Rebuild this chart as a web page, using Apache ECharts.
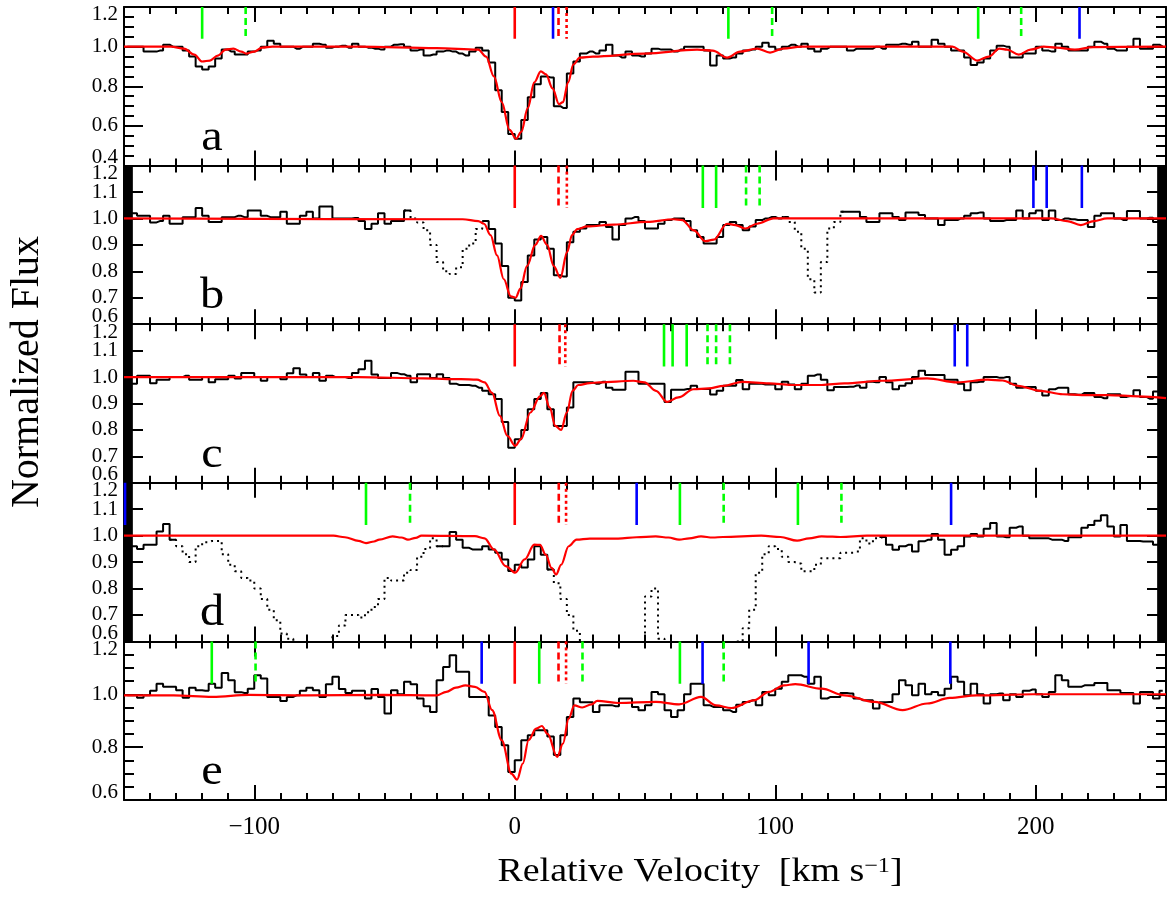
<!DOCTYPE html>
<html><head><meta charset="utf-8">
<script src="https://cdn.jsdelivr.net/npm/echarts/dist/echarts.min.js"></script>
<style>html,body{margin:0;padding:0;background:#fff}#c{width:1171px;height:898px}</style>
</head><body><div id="c"></div>
<script>
// ---------------- DATA ----------------
const VEL_START = -148.75;   // first bin centre (km/s)
const VEL_STEP = 2.5;        // bin width (km/s)
const X_MIN = -150, X_MAX = 250;
const panelLetters = ['a', 'b', 'c', 'd', 'e'];
const yRanges = [[0.4, 1.2, 0.2], [0.6, 1.2, 0.1], [0.6, 1.2, 0.1], [0.6, 1.2, 0.1], [0.6, 1.2, 0.2]];
const markerTop = 1.2, markerBottom = 1.04;

const fluxA = [
1.00,1.00,1.00,0.975,0.975,0.98,1.01,1.00,1.00,0.98,
0.95,0.90,0.885,0.90,0.94,0.985,0.975,0.96,0.96,0.975,
0.98,1.00,1.03,1.015,1.00,1.00,0.99,1.00,1.00,1.015,
1.01,0.995,1.00,1.005,0.995,1.015,1.00,0.995,0.99,0.985,
1.00,1.01,1.012,1.00,0.98,0.985,0.955,0.96,0.975,0.98,
0.975,0.965,0.955,0.975,0.995,0.98,0.92,0.78,0.67,0.56,
0.535,0.63,0.745,0.81,0.85,0.845,0.70,0.69,0.865,0.925,
0.965,0.975,0.965,0.98,1.01,0.955,0.945,0.975,0.955,0.95,
0.965,0.99,0.985,0.985,0.975,0.985,1.00,1.00,1.00,0.98,
0.905,0.955,0.94,0.945,0.965,0.98,0.985,1.00,1.02,1.00,
0.985,1.00,1.01,1.00,1.015,0.99,0.975,0.99,1.00,1.00,
1.00,0.98,0.99,0.99,0.99,1.00,0.99,1.01,1.01,1.015,
1.01,1.025,1.00,1.00,1.035,1.015,1.00,0.98,0.98,0.945,
0.907,0.92,0.94,0.98,1.005,1.00,0.945,0.945,0.965,0.965,
1.00,0.98,0.975,1.015,1.00,0.98,0.98,0.98,1.00,1.025,
1.015,0.99,0.98,0.98,1.00,1.04,0.99,0.99,1.01,1.00];

const fluxB = [
1.00,1.02,1.01,1.01,0.985,0.99,1.01,0.98,0.98,1.005,
1.005,1.04,1.01,0.987,0.987,1.005,1.005,1.01,1.005,1.03,
1.03,1.01,1.005,1.005,1.025,0.98,0.98,1.01,1.025,1.00,
1.045,1.045,1.00,1.00,1.00,1.002,0.99,0.96,0.98,1.02,
0.98,0.99,0.99,1.03,1.00,0.985,0.955,0.90,0.835,0.80,
0.79,0.815,0.885,0.905,0.96,0.99,0.96,0.905,0.82,0.70,
0.69,0.76,0.86,0.92,0.93,0.885,0.785,0.78,0.91,0.95,
0.962,0.975,0.975,0.987,0.968,0.92,0.975,1.00,1.006,0.99,
0.962,0.962,0.98,0.994,1.00,1.00,0.99,0.955,0.93,0.905,
0.905,0.93,0.975,0.987,0.975,0.955,0.97,0.994,1.00,1.006,
1.00,1.006,0.987,0.95,0.885,0.77,0.72,0.835,0.962,0.987,
1.025,1.025,1.025,1.006,0.987,0.987,1.02,1.02,1.006,0.994,
1.023,1.023,1.013,1.00,1.00,0.975,0.994,0.994,1.00,1.01,
1.02,1.023,1.00,0.99,0.99,0.994,0.994,1.03,1.00,1.02,
1.03,0.994,1.03,0.994,1.00,0.997,0.994,0.994,0.968,1.01,
1.02,1.02,1.00,0.994,1.028,1.028,1.00,1.003,0.987,0.99];

const fluxC = [
0.975,0.975,1.005,1.005,0.977,0.99,0.99,1.00,1.00,1.005,
0.99,0.99,1.00,0.98,0.992,0.992,1.005,0.995,1.015,1.015,
1.00,0.986,1.00,1.00,0.992,1.014,1.033,1.01,1.00,1.015,
0.986,1.005,1.00,1.00,0.996,1.015,1.03,1.062,1.01,0.996,
0.996,1.015,1.011,1.005,0.98,1.011,1.011,0.996,1.011,0.996,
0.975,0.97,0.97,0.967,0.96,0.948,0.935,0.917,0.83,0.733,
0.765,0.80,0.878,0.917,0.94,0.878,0.815,0.815,0.885,0.98,
0.98,0.98,0.975,0.982,0.96,0.952,0.952,1.02,1.02,0.975,
0.975,0.975,0.975,0.906,0.952,0.952,0.955,0.967,0.955,0.955,
0.934,0.948,0.967,0.967,0.989,0.954,0.975,0.975,0.972,0.972,
0.954,0.982,0.972,0.954,0.975,1.005,1.01,0.99,0.95,0.962,
0.962,0.963,0.968,0.96,0.982,0.98,1.00,0.98,0.954,0.967,
0.977,1.00,1.024,1.008,1.008,1.008,0.99,0.99,0.975,0.95,
0.98,0.982,1.00,1.00,0.997,1.00,0.975,0.96,0.962,0.962,
0.948,0.93,0.954,0.96,0.96,0.935,0.933,0.94,0.94,0.925,
0.92,0.935,0.935,0.925,0.928,0.95,0.925,0.918,0.945,0.945];

const fluxD = [
0.96,0.96,0.95,0.966,0.966,1.016,1.044,0.985,0.96,0.93,
0.90,0.96,0.975,0.98,0.98,0.93,0.89,0.865,0.84,0.83,
0.80,0.76,0.72,0.68,0.63,0.61,0.59,0.58,0.57,0.56,
0.56,0.58,0.62,0.66,0.70,0.70,0.69,0.71,0.73,0.76,
0.84,0.83,0.83,0.86,0.87,0.92,0.95,0.99,0.96,0.96,
1.014,0.985,0.954,0.948,0.948,0.96,0.948,0.935,0.91,0.866,
0.89,0.88,0.91,0.96,0.928,0.872,0.82,0.76,0.70,0.64,
0.58,0.55,0.55,0.55,0.55,0.55,0.55,0.55,0.55,0.59,
0.77,0.80,0.61,0.55,0.55,0.55,0.55,0.55,0.55,0.55,
0.55,0.55,0.55,0.55,0.60,0.65,0.72,0.86,0.93,0.96,
0.95,0.92,0.90,0.895,0.865,0.865,0.89,0.915,0.915,0.915,
0.935,0.935,0.94,0.99,0.97,0.99,0.995,0.966,0.947,0.96,
0.966,0.94,0.979,0.985,1.006,0.985,0.928,0.947,0.96,0.997,
1.006,0.997,1.026,1.048,0.997,0.994,1.03,1.035,1.00,0.99,
0.99,0.99,0.985,0.985,0.98,0.994,0.994,1.03,1.04,1.056,
1.077,1.035,0.997,1.04,0.98,0.98,0.978,0.978,0.966,0.966];

const fluxE = [
0.996,0.996,0.987,0.996,1.013,1.04,1.028,1.028,1.015,0.987,
1.025,1.015,1.013,1.04,1.025,1.08,1.053,1.008,1.005,1.021,
1.072,1.06,0.99,0.99,0.975,0.99,0.996,1.013,1.025,1.015,
0.99,1.038,1.066,1.02,1.005,1.013,1.013,0.984,1.02,0.99,
0.927,1.015,1.00,1.047,1.038,0.984,0.955,0.933,1.053,1.103,
1.148,1.085,1.085,0.99,0.99,0.99,0.92,0.876,0.807,0.706,
0.75,0.826,0.845,0.864,0.864,0.84,0.77,0.845,0.914,0.984,
0.97,0.97,0.933,0.958,0.958,0.955,0.984,0.984,0.952,0.94,
0.958,1.009,1.00,0.94,0.914,0.94,1.00,1.04,1.04,0.958,
0.952,0.952,0.94,0.933,0.96,0.971,0.977,0.958,1.009,0.996,
1.021,1.047,1.072,1.072,1.066,1.04,1.066,0.984,0.99,0.99,
1.005,1.003,0.984,0.977,0.977,0.946,0.97,0.971,1.00,1.053,
1.034,0.996,1.04,1.00,1.009,0.996,1.021,1.066,1.047,0.996,
1.04,1.00,0.965,1.00,1.003,0.977,1.00,0.99,1.013,1.018,
1.00,0.99,1.009,1.072,1.053,1.028,1.028,1.034,1.034,1.043,
1.043,1.015,1.015,1.005,1.005,0.965,1.009,1.009,0.984,1.013];

// masked (dotted) velocity ranges
const maskA = [], maskB = [[-40, -12.5], [105, 125]], maskC = [], maskD = [[-130, -30], [15, 140]], maskE = [];
// black masked edge regions
const edgeA = [], edgeB = [[-150, -146.6], [246.6, 250]], edgeC = [[-150, -146.6], [246.6, 250]], edgeD = [[-150, -146.6], [246.6, 250]], edgeE = [];

// model fits [velocity, flux]
const modelA = [[-150,1.0],[-132,1.0],[-127,0.99],[-123,0.96],[-120,0.925],[-117,0.93],[-114,0.955],[-111,0.985],[-108,0.99],[-105,0.975],[-103,0.965],[-100,0.975],[-97,0.995],[-93,1.0],[-60,1.0],[-30,0.993],[-14,0.985],[-11,0.95],[-8,0.85],[-5,0.72],[-2,0.58],[0.5,0.535],[2.5,0.57],[5,0.69],[7.5,0.82],[10,0.875],[12,0.86],[14.5,0.79],[17,0.71],[18.5,0.72],[20.5,0.82],[22.5,0.91],[25,0.945],[30,0.95],[50,0.965],[70,0.985],[76,0.98],[81.5,0.945],[86.5,0.975],[93,0.99],[98,0.97],[103,0.99],[110,1.0],[168,1.0],[172,0.975],[177.5,0.93],[182,0.95],[186,0.99],[189,0.985],[193.5,0.96],[198,0.985],[203,1.0],[208,0.995],[215,0.985],[222,0.998],[250,1.0]];
const modelB = [[-150,1.0],[-20,0.997],[-14,0.99],[-11.8,0.98],[-9.3,0.937],[-6.8,0.86],[-4.2,0.77],[-1.5,0.705],[0.3,0.70],[2.2,0.735],[4.7,0.82],[7.9,0.90],[10.1,0.934],[12.4,0.90],[15,0.82],[17.5,0.775],[20.1,0.873],[22,0.937],[24,0.96],[27.8,0.97],[38,0.977],[50.8,0.987],[61,0.997],[64.3,0.994],[68.7,0.955],[73.2,0.914],[76.4,0.92],[81.5,0.98],[84.7,0.975],[88.5,0.962],[93,0.98],[99.4,1.0],[206,1.0],[212,0.99],[217.3,0.975],[222.3,0.99],[227.4,1.0],[250,1.0]];
const modelC = [[-150,1.0],[-60,1.0],[-35,0.995],[-20.6,0.992],[-14.5,0.99],[-11.6,0.98],[-8.7,0.94],[-5.7,0.853],[-2.8,0.777],[0.2,0.74],[2.4,0.765],[6,0.866],[9.7,0.927],[11.2,0.94],[13.4,0.885],[15.6,0.815],[17.8,0.80],[20,0.866],[22.2,0.948],[24.4,0.97],[28.8,0.977],[32.5,0.98],[45.5,0.986],[49.8,0.98],[54.2,0.948],[58.5,0.906],[62.8,0.923],[68.6,0.954],[74.4,0.957],[80.2,0.967],[87.4,0.982],[97.6,0.976],[106.2,0.97],[117.8,0.97],[126.5,0.976],[141,0.986],[158.3,0.995],[169.9,0.98],[181.5,0.99],[187.3,0.987],[193.1,0.967],[201.7,0.948],[210.4,0.935],[217.7,0.932],[227.8,0.932],[239.4,0.927],[250,0.92]];
const modelD = [[-150,1.0],[-69.6,1.0],[-65.2,0.994],[-60,0.98],[-57.1,0.972],[-54,0.978],[-52,0.985],[-46.9,0.997],[-43.5,0.993],[-41,0.985],[-38,0.992],[-35.8,1.0],[-15.3,0.998],[-11.6,0.99],[-7.9,0.947],[-3.5,0.885],[0.2,0.86],[3.8,0.91],[7.5,0.966],[9.7,0.965],[11.9,0.928],[14.1,0.878],[15.9,0.853],[17.8,0.89],[20.7,0.96],[23.7,0.985],[28.8,0.989],[39.7,0.989],[46.8,0.994],[54.1,0.997],[59,0.993],[63.1,0.985],[67,0.99],[71.5,0.997],[76,0.993],[79.9,0.995],[94.6,1.0],[102,0.995],[108.4,0.981],[113,0.99],[117.8,0.997],[122,0.996],[125,0.995],[135.2,1.0],[250,1.0]];
const modelE = [[-150,0.996],[-131,0.996],[-116,0.99],[-102,0.998],[-80,0.996],[-50.5,0.998],[-30,0.996],[-26.3,1.009],[-22.6,1.025],[-18.9,1.034],[-15.3,1.028],[-11.6,1.009],[-8.7,0.94],[-5,0.826],[-1.3,0.70],[0.9,0.677],[3.1,0.738],[5.3,0.826],[8.2,0.87],[10.4,0.88],[12.6,0.85],[16.3,0.763],[18.5,0.813],[20.7,0.908],[22.9,0.958],[25.9,0.95],[29.5,0.962],[31.7,0.975],[39.7,0.967],[54.2,0.971],[63.1,0.962],[71.5,0.99],[77.3,0.958],[83.1,0.948],[91.8,0.977],[97.6,1.009],[103.4,1.034],[107.7,1.038],[117.8,1.021],[126.5,0.996],[138.1,0.971],[148.9,0.94],[158.3,0.965],[167,0.986],[177.2,0.996],[198.9,1.0],[250,1.0]];

// component velocity markers
const redSolid    = [[0], [0], [0], [0], [0]];
const redDashed   = [[16.8], [16.8], [17.2], [16.9], [16.8]];
const redDotted   = [[19.9], [20.0], [19.4], [19.7], [19.7]];
const greenSolid  = [[-120, 82, 177.9], [72.2, 77.3], [57.3, 60.6, 66.0], [-57.1, 63.4, 108.7], [-116.3, 9.4, 63.4]];
const greenDashed = [[-103.3, 98.8, 194.4], [88.8, 94.0], [74.0, 77.3, 82.6], [-40.2, 80.2, 125.4], [-99.5, 26.0, 80.2]];
const blueSolid   = [[14.7, 216.8], [199.1, 204.2, 217.7], [168.9, 173.7], [-149.6, 46.8, 167.5], [-12.7, 72.1, 112.8, 167.2]];

// ---------------- BUILD ----------------
const fluxes = [fluxA, fluxB, fluxC, fluxD, fluxE];
const masks = [maskA, maskB, maskC, maskD, maskE];
const edges = [edgeA, edgeB, edgeC, edgeD, edgeE];
const models = [modelA, modelB, modelC, modelD, modelE];

const FONT = "'Liberation Serif', 'DejaVu Serif', serif";
const L = 124, W = 1042, TOP0 = 7, PH = 158.6;
const RED = '#ff0000', GREEN = '#00ff00', BLUE = '#0000ff';
const EDGE_SLOTS = 10; // helper category axis: end labels sit half a slot inside the frame

const grids = [], xAxes = [], yAxes = [], series = [], graphics = [];
const labelFont = { color: '#000', fontFamily: FONT, fontSize: 21 };

for (let i = 0; i < 5; i++) {
  grids.push({ left: L, top: TOP0 + i * PH, width: W, height: PH });
  const [ymin, ymax, yint] = yRanges[i];
  const xBase = {
    gridIndex: i, type: 'value', min: X_MIN, max: X_MAX, splitNumber: 4,
    axisLine: { show: true, onZero: false, lineStyle: { color: '#000', width: 2 } },
    axisTick: { show: true, inside: true, length: 15, lineStyle: { color: '#000', width: 2 } },
    minorTick: { show: true, splitNumber: 10, length: 7, lineStyle: { color: '#000', width: 2 } },
    splitLine: { show: false }, minorSplitLine: { show: false }
  };
  xAxes.push(Object.assign({}, xBase, {
    position: 'bottom',
    axisLabel: {
      show: i === 4, showMinLabel: false, showMaxLabel: false, margin: 15,
      color: '#000', fontFamily: FONT, fontSize: 25,
      formatter: v => (v < 0 ? '\u2212' + Math.abs(v) : String(v))
    }
  }));
  xAxes.push(Object.assign({}, xBase, { position: 'top', axisLabel: { show: false } }));

  const minorSplit = Math.abs(yint - 0.2) < 1e-9 ? 4 : 0;
  const yBase = {
    gridIndex: i, type: 'value', min: ymin, max: ymax, interval: yint,
    axisLine: { show: true, onZero: false, lineStyle: { color: '#000', width: 2 } },
    axisTick: { show: true, inside: true, length: 19, lineStyle: { color: '#000', width: 2 } },
    minorTick: { show: minorSplit > 0, splitNumber: minorSplit || 5, length: 10, lineStyle: { color: '#000', width: 2 } },
    splitLine: { show: false }, minorSplitLine: { show: false }
  };
  // main value axis (inner labels only)
  yAxes.push(Object.assign({}, yBase, {
    position: 'left',
    axisLabel: Object.assign({
      show: true, showMinLabel: false, showMaxLabel: false, hideOverlap: false, margin: 6,
      formatter: v => v.toFixed(1)
    }, labelFont)
  }));
  yAxes.push(Object.assign({}, yBase, { position: 'right', axisLabel: { show: false } }));
  // helper axis for the end labels (min / max), nudged inside the panel
  const endLabels = Array.from({ length: EDGE_SLOTS }, (_, k) =>
    k === 0 ? ymin.toFixed(1) : (k === EDGE_SLOTS - 1 ? ymax.toFixed(1) : ''));
  yAxes.push({
    gridIndex: i, type: 'category', position: 'left', data: endLabels, boundaryGap: true,
    axisLine: { show: false }, axisTick: { show: false }, splitLine: { show: false },
    axisLabel: Object.assign({ show: true, interval: 0, margin: 6 }, labelFont)
  });

  const xi = 2 * i, yi = 3 * i;
  const flux = fluxes[i], mask = masks[i];
  const vel = flux.map((_, k) => VEL_START + k * VEL_STEP);
  const inMask = v => mask.some(m => v >= m[0] && v <= m[1]);
  const solid = vel.map((v, k) => inMask(v) ? [v, '-'] : [v, flux[k]]);
  const dotted = vel.map((v, k) => {
    const m = inMask(v);
    const nb = (k > 0 && inMask(vel[k - 1])) || (k < vel.length - 1 && inMask(vel[k + 1]));
    return (m || nb) ? [v, flux[k]] : [v, '-'];
  });

  series.push({
    type: 'line', xAxisIndex: xi, yAxisIndex: yi, data: solid, step: 'middle',
    symbol: 'none', connectNulls: false, z: 2,
    lineStyle: { color: '#000', width: 2 },
    markArea: edges[i].length ? {
      silent: true, itemStyle: { color: '#000' },
      data: edges[i].map(e => [{ xAxis: e[0] }, { xAxis: e[1] }])
    } : undefined
  });
  if (mask.length) {
    series.push({
      type: 'line', xAxisIndex: xi, yAxisIndex: yi, data: dotted, step: 'middle',
      symbol: 'none', connectNulls: false, z: 2,
      lineStyle: { color: '#000', width: 2, type: [2, 4] }
    });
  }
  series.push({
    type: 'line', xAxisIndex: xi, yAxisIndex: yi, data: models[i], smooth: 0.35,
    smoothMonotone: 'x', symbol: 'none', z: 3,
    lineStyle: { color: RED, width: 2.2 }
  });

  const addMarkers = (list, color, type) => list.forEach(v => series.push({
    type: 'line', xAxisIndex: xi, yAxisIndex: yi, symbol: 'none', z: 5,
    data: [[v, markerTop], [v, markerBottom]],
    lineStyle: { color: color, width: 2.6, type: type }
  }));
  addMarkers(redSolid[i], RED, 'solid');
  addMarkers(redDashed[i], RED, [7, 4]);
  addMarkers(redDotted[i], RED, [3, 3]);
  addMarkers(greenSolid[i], GREEN, 'solid');
  addMarkers(greenDashed[i], GREEN, [7, 4]);
  addMarkers(blueSolid[i], BLUE, 'solid');

  graphics.push({
    type: 'text', x: 212, y: TOP0 + i * PH + 131, z: 10, scaleX: 1.1,
    style: { text: panelLetters[i], font: '44px ' + FONT, fill: '#000', align: 'center', verticalAlign: 'middle' }
  });
}

graphics.push({
  type: 'text', x: 27, y: 372, rotation: Math.PI / 2, z: 10,
  style: { text: 'Normalized Flux', font: '40px ' + FONT, fill: '#000', align: 'center', verticalAlign: 'middle' }
});
graphics.push({
  type: 'text', x: 700, y: 872, z: 10, scaleX: 1.15,
  style: {
    text: '{n|Relative Velocity  [km s}{s|\u22121}{n|]}',
    align: 'center', verticalAlign: 'middle',
    rich: {
      n: { font: '33px ' + FONT, fill: '#000' },
      s: { font: '21px ' + FONT, fill: '#000', verticalAlign: 'top', padding: [0, 0, 8, 0] }
    }
  }
});

const chart = echarts.init(document.getElementById('c'), null, { renderer: 'canvas' });
chart.setOption({
  animation: false,
  backgroundColor: '#fff',
  textStyle: { fontFamily: FONT },
  grid: grids, xAxis: xAxes, yAxis: yAxes, series: series, graphic: graphics
});
</script>
</body></html>
